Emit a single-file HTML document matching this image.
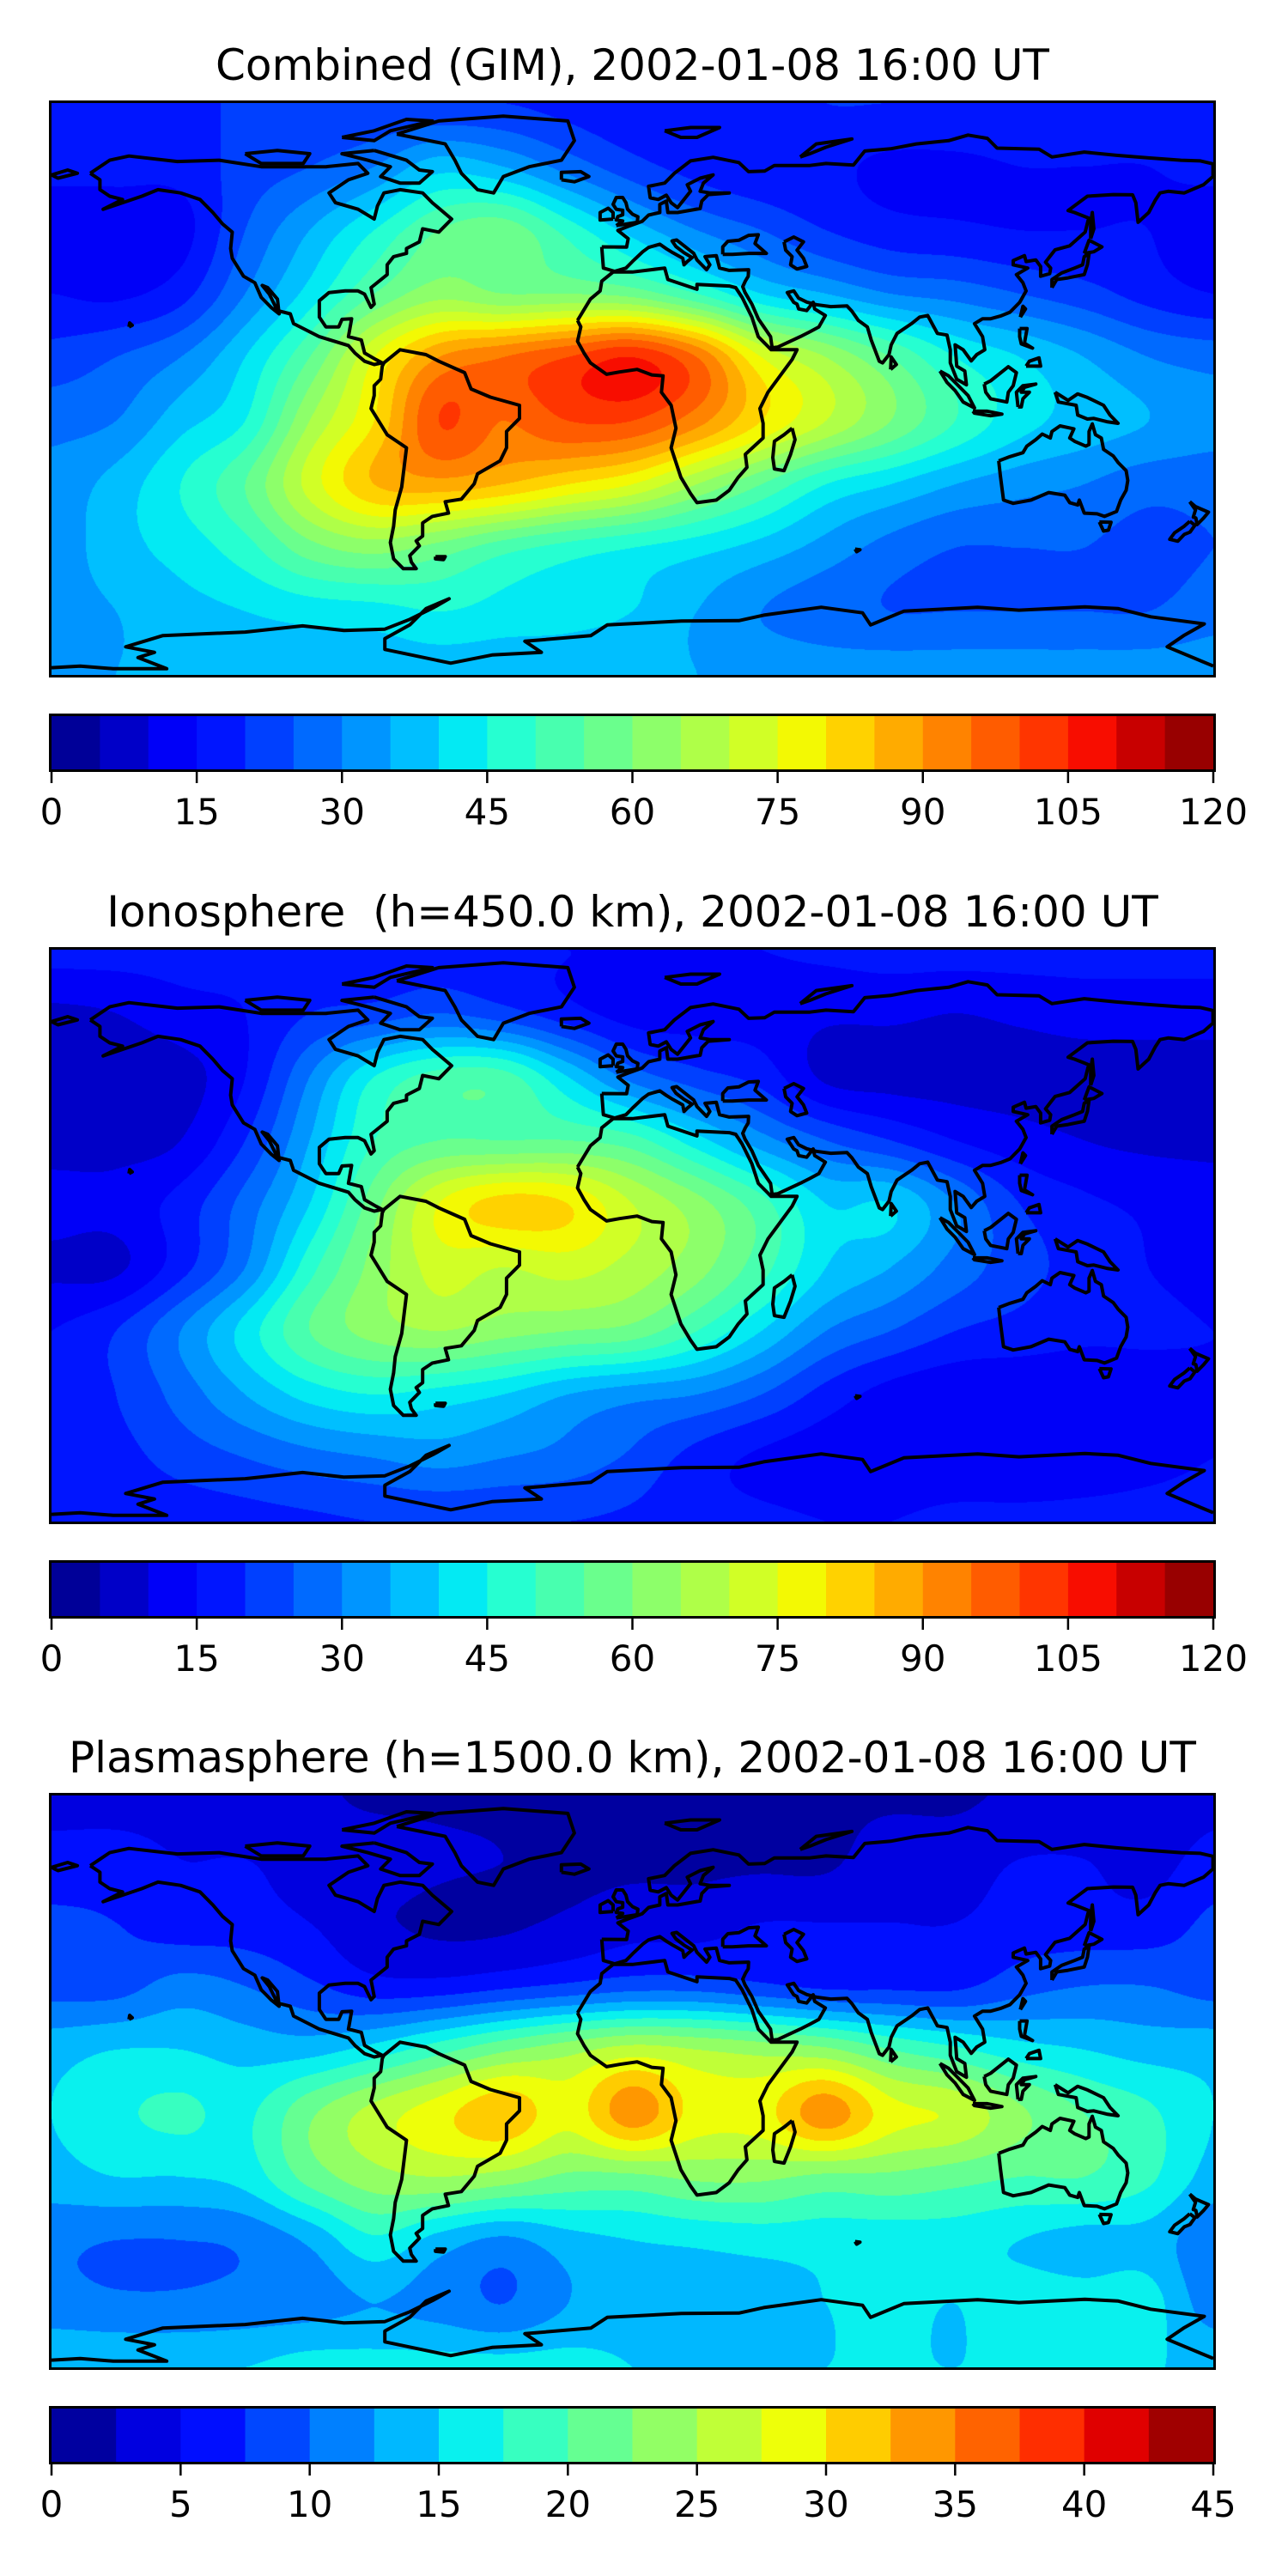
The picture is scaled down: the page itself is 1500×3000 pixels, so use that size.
<!DOCTYPE html>
<html><head><meta charset="utf-8"><title>TEC maps</title>
<style>
html,body{margin:0;padding:0;background:#fff;}
body{width:1500px;height:3000px;position:relative;overflow:hidden;font-family:"DejaVu Sans","Liberation Sans",sans-serif;}
.panel{position:absolute;left:0;width:1500px;height:985px;}
.title{position:absolute;left:57px;width:1359px;top:46px;text-align:center;font-size:50px;line-height:60px;color:#000;white-space:pre;}
canvas.map{position:absolute;left:60px;top:120px;width:1353px;height:666px;}
svg.ov{position:absolute;left:0;top:0;}
</style></head>
<body>
<div class="panel" style="top:0px">
  <div class="title">Combined (GIM), 2002-01-08 16:00 UT</div>
  <canvas class="map" id="c0" width="1353" height="666"></canvas>
  <svg class="ov" id="s0" width="1500" height="985"></svg>
</div>
<div class="panel" style="top:985.5px">
  <div class="title">Ionosphere  (h=450.0 km), 2002-01-08 16:00 UT</div>
  <canvas class="map" id="c1" width="1353" height="666"></canvas>
  <svg class="ov" id="s1" width="1500" height="985"></svg>
</div>
<div class="panel" style="top:1971px">
  <div class="title">Plasmasphere (h=1500.0 km), 2002-01-08 16:00 UT</div>
  <canvas class="map" id="c2" width="1353" height="666"></canvas>
  <svg class="ov" id="s2" width="1500" height="985"></svg>
</div>
<script>
const lons = [-180,-160,-140,-120,-100,-80,-60,-40,-20,0,20,40,60,80,100,120,140,160,180];
const lats = [87.5,68.06,48.61,29.17,9.72,-9.72,-29.17,-48.61,-68.06,-87.5];

const gimValues = [
[20,20,20,20,20,20,20,20,18,16,16,18,20,20,20,20,20,20,20],
[17,17,17,22,25,30,38,35,28,22,18,16,16,14,14,15,15,15,17],
[11,11,13,25,35,45,55,58,48,38,30,25,20,17,16,15,15,15,11],
[15,14,18,30,42,55,63,60,60,58,50,40,35,30,28,25,22,18,15],
[22,25,30,40,55,75,90,95,100,105,95,75,65,55,45,40,35,30,28],
[28,30,38,45,65,80,100,95,100,100,92,80,70,60,50,42,38,35,32],
[32,37,45,55,72,85,88,85,80,75,65,55,45,40,35,32,30,27,27],
[32,38,42,48,58,62,58,52,48,45,42,38,33,28,25,25,25,23,25],
[33,35,38,40,42,43,45,43,42,40,35,30,27,25,25,25,25,25,28],
[35,35,36,37,37,37,37,37,37,36,35,34,33,33,33,33,33,33,33]];

const ionoValues = [
[17,17,17,17,17,17,17,16,15,15,15,15,16,17,17,17,17,17,17],
[9,10,13,15,20,22,25,22,17,13,13,13,11,11,10,11,12,12,12],
[8,7,8,15,30,45,52,52,40,28,22,18,9,8,8,8,8,8,8],
[8,8,10,20,35,50,55,55,55,52,42,32,25,20,15,12,10,9,9],
[12,12,17,27,40,58,75,82,80,70,62,52,40,40,30,20,16,14,12],
[9,9,18,30,48,62,72,70,72,68,62,52,40,35,28,22,18,15,13],
[15,20,30,42,55,62,65,62,60,58,50,40,30,25,20,18,16,16,15],
[16,20,27,35,42,45,43,40,35,32,30,25,18,13,11,11,12,12,14],
[15,18,22,25,28,30,32,30,28,24,18,14,12,12,12,12,13,14,15],
[16,16,17,18,19,20,20,20,20,19,17,16,15,15,16,16,16,16,16]];

const plasmaValues = [
[4,4,4,3,3,2,2,2,2,2,2,2,2,2,2,3,3,3,4],
[6,6,5,5,4,4,3,2.5,2,2,2,2,2,4,4,5,5,4,6],
[8,7.5,6,6,5,3,2,2,3,4,4,5,5,5,5,6,6,6,8],
[9,9,11,10,8,6,6,7,8,9,9,8,7,7,7,9,10,10,9],
[14,15,15,14,14,16,19,22,24,26,25,24,23,20,18,16,15,14,14],
[15,17,18,17,22,26,29,32,28.5,34,29,29,34,28.5,27,23,20,18,15],
[14,15,15,16,21,24,25,24,22,22,23,23,22,22,21,20,20,18,14],
[10.5,10,10,10.5,13,17,14,12,14,15,15.5,16,16,16,16,15,14,14,10.5],
[11,10.5,10.5,11,11.5,12.5,11.5,10,12.5,14,14,14,15,15.5,15,16,16,16,11],
[15,15,15,15,16,16,16,16,16,15,15,15,15,15,15,15,15,15,15]];

const tecLevels = [0,5,10,15,20,25,30,35,40,45,50,55,60,65,70,75,80,85,90,95,100,105,110,115,120];
const plasmaLevels = [0,2.5,5,7.5,10,12.5,15,17.5,20,22.5,25,27.5,30,32.5,35,37.5,40,42.5,45];
const tecTicks = [0,15,30,45,60,75,90,105,120];
const plasmaTicks = [0,5,10,15,20,25,30,35,40,45];

const coastlines = [
 [[-168,66],[-162,70],[-156,71.3],[-141,69.6],[-128,70],[-115,68],[-95,68],[-85,69],[-82,66],[-88,64],[-94,60],[-92,57],[-85,55],[-80,52],[-79,56],[-77,60],[-72,61],[-65,60],[-62,57],[-56,52],[-60,48],[-65,49],[-66,45],[-70,43],[-70,41.5],[-74,40.5],[-76,38],[-76,35],[-81,31],[-80,26],[-81,25],[-83,29],[-85,30],[-89,30],[-94,29.5],[-97,27],[-97,22],[-95,19],[-91,19],[-90,21.3],[-87,21.5],[-88,16],[-84,15],[-83,11],[-79.5,9],[-77.5,8],[-80,7.5],[-83,8.5],[-86,11],[-88,13.3],[-92,14.5],[-97,16],[-105,20],[-106,23],[-110,24],[-112.5,29],[-114.7,31.7],[-113,31],[-110,27.5],[-109.5,23],[-112,25],[-115,28],[-117,32.5],[-120.5,34.5],[-124,40],[-124.5,43],[-124,48],[-127,50.5],[-130,54],[-134,58],[-140,60],[-147,61],[-152,59],[-158,57],[-164,55],[-158,58],[-162,59],[-165,61],[-165,64],[-168,66]],
 [[-73,78],[-60,82],[-40,83.5],[-20,82],[-18,76],[-22,70],[-32,68],[-40,65],[-43,60],[-48,61],[-53,66],[-55,70],[-58,75],[-68,77],[-73,78]],
 [[-80,73],[-70,70],[-66,67],[-62,66.5],[-66,63],[-72,63],[-78,65],[-75,68],[-82,70],[-90,72],[-80,73]],
 [[-120,72],[-110,73],[-100,72],[-102,69],[-115,69],[-120,72]],
 [[-90,77],[-80,79],[-70,82.5],[-62,82],[-75,79],[-80,76],[-90,77]],
 [[-77,8],[-72,12],[-64,10.5],[-60,8.5],[-52,5],[-50,0],[-44,-2.5],[-35,-5],[-35,-9],[-39,-13],[-39,-18],[-41,-22],[-48,-26],[-49,-29],[-53,-33.7],[-58,-34.5],[-57,-38],[-62,-39],[-65,-41],[-65,-45],[-67,-46.5],[-66,-48],[-69,-51],[-68.5,-53],[-67,-55],[-71,-55],[-74,-52],[-75,-47],[-74,-42],[-73.5,-37],[-71.5,-30],[-70,-18],[-76,-14],[-81,-6],[-80,-2],[-80,1],[-78,3],[-77.5,7],[-77,8]],
 [[-17,21],[-13,27.5],[-10,30],[-9.5,33],[-6,35.8],[0,35.8],[10,37],[11,33.5],[20,30.5],[20,32],[30,31.5],[32,31],[34,28],[37,22],[39,16],[43,12],[51,12],[49.5,9],[42,-1],[39.5,-6],[40.5,-10.5],[40.5,-15],[35,-20],[35.5,-24],[32.8,-27],[30,-31],[26,-34],[20,-34.8],[18,-32],[15,-27],[12,-18],[13.5,-12],[12,-5],[9,-1],[9.5,4],[6,4.3],[1.5,6],[-4,5.2],[-8,4.5],[-13,8],[-15,11],[-17,14.6],[-16,19],[-17,21]],
 [[49.5,-12],[50.4,-15.5],[49,-20],[47,-25],[44,-24.5],[43.5,-21],[44,-16],[47,-14],[49.5,-12]],
 [[-9.5,43.5],[-9,37],[-5.5,36],[-2,37],[0,39],[3.2,42],[5,43.3],[8.5,44.3],[10.5,42.9],[12.5,41.7],[15.6,40],[16,38],[17,39],[18.5,40.2],[16,41.7],[13.5,43.6],[12.3,45.3],[13.7,45.6],[15,44.6],[19,41.5],[20,39.5],[23,36.5],[24,38],[22.5,40.5],[26,40.8],[27,37],[30,36.3],[36,36.5],[35.9,34.5],[35,33],[34.2,31.3],[34.9,29.5],[37,26],[39,21.5],[42.8,16],[43.3,12.6],[45,12.8],[52,16],[55,17.5],[57.8,19],[59.8,22.5],[56.5,24.5],[56,26.5],[54,24],[51.5,24.5],[51,26],[50,26.5],[48,29.5],[50,30],[51.5,27.8],[54,26.6],[57,25.8],[61.5,25.2],[66.5,25.4],[68,23.8],[70,21],[72.8,19],[74,15],[76.5,8.5],[77.5,8],[79.5,10.5],[80.2,13.5],[82,17],[86.5,20],[89,22],[91.5,22.5],[94.5,17],[97.5,16.5],[98.5,12],[98.5,8],[100.5,3],[103.5,1.3],[103,5.5],[100.5,7],[100,13.5],[102.5,12],[105,8.6],[106.7,10.5],[109.2,12],[108.5,16],[106,20],[108.5,21.5],[111,21.5],[114,22.3],[117,23.5],[120,26.5],[122,30],[121,32.5],[119,35],[122.5,37],[118,38],[118,39.3],[121.5,40.8],[122,39],[125,39.5],[126.5,37.5],[126.5,34.5],[129.3,35.3],[129.6,37],[128,38.8],[129.7,41],[131,42.6],[135.5,43.8],[140.3,48],[141.4,52.3],[137,54],[135,54.6],[141,59],[149,59.5],[155,59.4],[156,57],[156.7,51],[160,54],[162,57.7],[163.5,60],[166,60.5],[171,60],[177,62.5],[179.9,65],[179.9,68.9],[176,69.8],[170,70],[160,70.7],[150,71.5],[140,72.5],[130,71],[126,73.4],[113,73.7],[110,76.7],[104,77.7],[98,76],[88,75],[80,73.5],[72,72.8],[68.5,68.5],[60,69],[55,68.4],[44,68.4],[41,66.7],[36,66.5],[33,69.3],[25,70.9],[18,69.8],[13,66],[10,63],[5,62],[5.5,58.5],[8,58],[10.5,59.3],[12,57],[14,55.5],[18,60.5],[17,62.5],[21,64.5],[25,65.5],[22,63],[21,60.5],[24,60],[30,60],[23.5,59.5],[21.5,57.5],[21,55.2],[14,54],[11,54],[10.5,57.5],[8.5,56.5],[8.5,54],[5,53.2],[3,51.3],[1.6,50.8],[-1.5,49.7],[-4.5,48.5],[-1.3,46],[-1.8,43.4],[-9.5,43.5]],
 [[-180,65.5],[-175,67],[-172,66],[-178,64.5],[-180,65.5]],
 [[28,41.2],[28,43.5],[29.6,45.2],[33,45.5],[36,47],[39,47.2],[38,44.5],[41.5,41.5],[36,41.5],[31,41.2],[28,41.2]],
 [[47,45],[50,46.5],[53,45],[51,42.5],[53,40],[54,37.5],[51,36.7],[49,38],[49.5,40.5],[47.5,42.5],[47,45]],
 [[-5,50],[1.5,51],[1.7,52.7],[0,53.5],[-1.5,55],[-2,57],[-3,58.6],[-5,58.6],[-6,56.5],[-5,55],[-3,54.7],[-3,53.3],[-4.5,52.8],[-5,51.7],[-3,51.4],[-5,50]],
 [[-6,52],[-6,54],[-7.5,55.3],[-10,54],[-10,51.7],[-6,52]],
 [[-22,64],[-22,66.3],[-16,66.5],[-13.5,65],[-18,63.4],[-22,64]],
 [[10,79],[18,80],[27,80],[20,77],[15,77],[10,79]],
 [[52,71],[57,75],[68,76.5],[60,74],[55,72],[52,71]],
 [[130,31],[131.5,33.5],[135,34],[140,35],[141,38],[141.5,41.3],[140,40.5],[139.5,38],[137,37],[133,35.5],[130,33.5],[130,31]],
 [[140,41.5],[141.5,45.5],[145.5,43.5],[143,42],[140,41.5]],
 [[142,46],[143,49],[142.5,54],[142,51],[142,46]],
 [[95.3,5.5],[98,4],[104,-2],[106,-5.8],[102.5,-4],[100,-0.5],[97.5,2],[95.3,5.5]],
 [[109,1.5],[111,2.5],[116.5,6.8],[119,5],[118,1],[116.5,-1],[116,-4],[111,-3],[109.5,-1],[109,1.5]],
 [[105.5,-6.8],[110,-6.8],[114.5,-7.7],[111,-8.2],[106,-7.4],[105.5,-6.8]],
 [[119.5,-5.5],[119,-1],[121,1],[125,1.5],[121.5,0.5],[120.5,-1],[123,-1],[121,-3],[120.5,-5.5],[119.5,-5.5]],
 [[131,-1],[135,-3.5],[138,-1.5],[141,-2.6],[146,-5],[148,-8],[150.5,-10.5],[147,-10],[143,-9],[141,-9.2],[138,-8],[137.5,-5],[132,-4],[131,-1]],
 [[120,18.5],[122.3,18.5],[121.5,14],[124,12.5],[120.5,13.8],[120,16],[120,18.5]],
 [[122,7],[126.5,7],[126,9.5],[123,8.5],[122,7]],
 [[120.2,22],[121.8,24.5],[121,25.3],[120.2,22]],
 [[80,6],[81.8,7.5],[80.2,9.8],[80,6]],
 [[113.5,-22],[114,-26.5],[115,-34],[118,-35],[123.5,-34],[129,-31.7],[134,-32.5],[135.5,-34.8],[138,-35.5],[138.5,-34],[140,-38],[144,-38.2],[146.3,-39],[150,-37.5],[151.3,-34],[153,-31],[153.5,-28],[153,-25],[150.5,-22.5],[149,-20.5],[146,-18.5],[145.3,-15],[143.5,-14],[142.5,-10.7],[141.5,-13],[141.5,-17],[140.5,-17.5],[137,-16],[135.5,-15],[136.8,-12.2],[132.5,-11.3],[130,-13],[129.5,-15],[127,-13.8],[125,-15.5],[122.2,-17.5],[121,-19.5],[117,-20.7],[113.5,-22]],
 [[144.7,-40.7],[148.3,-40.8],[147.5,-43.2],[146,-43.5],[144.7,-40.7]],
 [[172.7,-34.5],[174.5,-36],[178.5,-37.7],[177,-39.5],[175,-41.5],[174.6,-39.5],[173.8,-39.2],[174.5,-37],[172.7,-34.5]],
 [[172.7,-40.5],[174.3,-41.7],[172.8,-43.8],[171,-44.5],[169,-46.6],[166.5,-46],[168,-44],[171,-42],[172.7,-40.5]],
 [[-61,-51.3],[-58,-51.3],[-58.5,-52.2],[-61,-52],[-61,-51.3]],
 [[-156,19],[-155,19.5],[-155.8,20.2],[-156,19]],
 [[69,-49],[70.5,-49.2],[69.5,-49.8],[69,-49]],
 [[-180,-85.3],[-171.1,-84.8],[-160.9,-85.6],[-144.3,-85.6],[-153.2,-82.2],[-148.1,-80.6],[-157,-78.9],[-145.6,-75.5],[-120,-74.4],[-102.2,-72.5],[-89.4,-73.9],[-76.7,-73.5],[-69,-70.5],[-61.4,-66.8],[-56.8,-64.2],[-63.9,-67.2],[-69,-72.2],[-76.7,-76.4],[-76.7,-79.7],[-56.3,-83.9],[-43.5,-81.4],[-28.2,-80.6],[-33.3,-77.2],[-12.9,-75.5],[-7.8,-72.2],[15.2,-71],[33,-70.9],[40.7,-69.2],[58.5,-66.8],[71.3,-68.5],[73.8,-72.2],[84.1,-68],[107,-66.8],[119.8,-67.7],[140.2,-66.7],[150.4,-67.2],[160.6,-69.7],[177.2,-71.9],[170.8,-75.5],[165.7,-78.9],[180,-84.8]]
];

const MAPX=60, MAPY=120, MAPW=1353, MAPH=666;
function xOfLon(lon){return MAPX+(lon-lons[0])/(lons[lons.length-1]-lons[0])*MAPW;}
function yOfLat(lat){return MAPY+(lats[0]-lat)/(lats[0]-lats[lats.length-1])*MAPH;}

function jet(t){
  function seg(pts){for(let i=1;i<pts.length;i++){if(t<=pts[i][0]){const a=pts[i-1],b=pts[i];return a[1]+(b[1]-a[1])*(t-a[0])/(b[0]-a[0]);}}return pts[pts.length-1][1];}
  const r=seg([[0,0],[0.35,0],[0.66,1],[0.89,1],[1,0.5]]);
  const g=seg([[0,0],[0.125,0],[0.375,1],[0.64,1],[0.91,0],[1,0]]);
  const b=seg([[0,0.5],[0.11,1],[0.34,1],[0.65,0],[1,0]]);
  return [Math.round(r*255),Math.round(g*255),Math.round(b*255)];
}
function cr(p0,p1,p2,p3,t){return 0.5*((2*p1)+(-p0+p2)*t+(2*p0-5*p1+4*p2-p3)*t*t+(-p0+3*p1-3*p2+p3)*t*t*t);}
function sample(vals,u,v){
  const nr=vals.length,nc=vals[0].length;
  const iu=Math.min(Math.floor(u),nc-2),iv=Math.min(Math.floor(v),nr-2);
  const fu=u-iu,fv=v-iv;
  const rows=[];
  for(let j=-1;j<=2;j++){
    const r=vals[Math.max(0,Math.min(nr-1,iv+j))];
    const c=k=>r[Math.max(0,Math.min(nc-1,iu+k))];
    rows.push(cr(c(-1),c(0),c(1),c(2),fu));
  }
  return cr(rows[0],rows[1],rows[2],rows[3],fv);
}
function drawField(canvasId,vals,levels){
  const cv=document.getElementById(canvasId),ctx=cv.getContext('2d');
  const img=ctx.createImageData(MAPW,MAPH),d=img.data;
  const nb=levels.length-1;
  const cols=[];for(let i=0;i<nb;i++)cols.push(jet((i+0.5)/nb));
  const lonSpan=lons[lons.length-1]-lons[0],latSpan=lats[0]-lats[lats.length-1];
  for(let py=0;py<MAPH;py++){
    const lat=lats[0]-(py+0.5)/MAPH*latSpan;
    const v=(lats[0]-lat)/latSpan*(lats.length-1);
    for(let px=0;px<MAPW;px++){
      const lon=lons[0]+(px+0.5)/MAPW*lonSpan;
      const u=(lon-lons[0])/lonSpan*(lons.length-1);
      const val=sample(vals,u,v);
      let bi=0;while(bi<nb-1&&val>=levels[bi+1])bi++;
      const c=cols[bi],o=(py*MAPW+px)*4;
      d[o]=c[0];d[o+1]=c[1];d[o+2]=c[2];d[o+3]=255;
    }
  }
  ctx.putImageData(img,0,0);
}
const NS='http://www.w3.org/2000/svg';
function mk(tag,attrs){const e=document.createElementNS(NS,tag);for(const k in attrs)e.setAttribute(k,attrs[k]);return e;}
function drawOverlay(svgId,levels,ticks,idx){
  const s=document.getElementById(svgId);
  const defs=mk('defs',{});const cp=mk('clipPath',{id:'clip'+idx});
  cp.appendChild(mk('rect',{x:MAPX,y:MAPY,width:MAPW,height:MAPH}));defs.appendChild(cp);s.appendChild(defs);
  const g=mk('g',{'clip-path':'url(#clip'+idx+')'});
  
  
  coastlines.forEach(poly=>{
    const dstr=poly.map((p,i)=>(i?'L':'M')+xOfLon(p[0]).toFixed(1)+' '+yOfLat(p[1]).toFixed(1)).join(' ');
    const p=mk('path',{d:dstr,fill:'none',stroke:'#000','stroke-width':4,'stroke-linejoin':'round'});
    
    
    g.appendChild(p);
  });
  s.appendChild(g);
  const fr=mk('rect',{x:MAPX-1.5,y:MAPY-1.5,width:MAPW+3,height:MAPH+3,fill:'none',stroke:'#000','stroke-width':3});
  
  
  s.appendChild(fr);
  const CBX=60,CBY=834,CBW=1353,CBH=62;
  const nb=levels.length-1,lo=levels[0],hi=levels[nb];
  const cbx=v=>CBX+(v-lo)/(hi-lo)*CBW;
  for(let i=0;i<nb;i++){
    const c=jet((i+0.5)/nb);
    const r=mk('rect',{x:cbx(levels[i]).toFixed(2),y:CBY,width:(cbx(levels[i+1])-cbx(levels[i])+0.6).toFixed(2),height:CBH,fill:'rgb('+c.join(',')+')'});
    
    
    s.appendChild(r);
  }
  const cf=mk('rect',{x:CBX-1.5,y:CBY-1.5,width:CBW+3,height:CBH+3,fill:'none',stroke:'#000','stroke-width':3});
  
  
  s.appendChild(cf);
  ticks.forEach(t=>{
    const x=cbx(t);
    const ln=mk('line',{x1:x,y1:CBY+CBH+1.5,x2:x,y2:CBY+CBH+16,stroke:'#000','stroke-width':2.5});
    
    
    s.appendChild(ln);
    const tx=mk('text',{x:x,y:CBY+CBH+64,'text-anchor':'middle','font-size':42,'font-family':'DejaVu Sans, Liberation Sans, sans-serif',fill:'#000'});
    tx.textContent=String(t);
    
    
    s.appendChild(tx);
  });
}
drawField('c0',gimValues,tecLevels);
drawField('c1',ionoValues,tecLevels);
drawField('c2',plasmaValues,plasmaLevels);
drawOverlay('s0',tecLevels,tecTicks,0);
drawOverlay('s1',tecLevels,tecTicks,1);
drawOverlay('s2',plasmaLevels,plasmaTicks,2);
</script>
</body></html>
